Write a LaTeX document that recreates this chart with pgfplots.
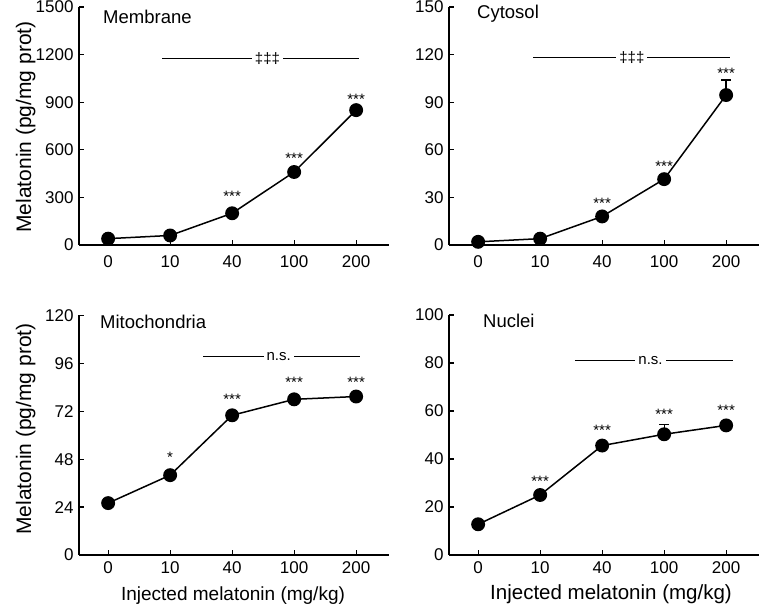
\documentclass[border=0pt]{standalone}
\usepackage{fontspec}
\setmainfont{Liberation Sans}
\usepackage{pgfplots}
\pgfplotsset{compat=1.18}

\pgfplotsset{
  panel/.style={
    scale only axis, width=310pt, anchor=south west,
    xmin=-0.47, xmax=4.53, ymin=0, clip=false,
    axis x line*=bottom, axis y line*=left,
    axis line style={line width=1.3pt,-},
    tick align=inside, major tick length=5pt,
    tick style={line width=1.2pt,black},
    xtick={0,1,2,3,4}, xticklabels={0,10,40,100,200},
    /pgf/number format/assume math mode=true,
    /pgf/number format/1000 sep={},
    tick label style={font=\fontsize{17}{19}\selectfont},
    yticklabel style={xshift=-2pt},
    xticklabel style={yshift=-3pt},
  },
  toppanel/.style={panel, xticklabel style={yshift=-4pt}},
  series/.style={black, line width=1.5pt, mark=*, mark size=6.2pt},
}
\tikzset{
  stars/.style={font=\fontsize{15}{16}\selectfont, yshift=-3pt},
  sig/.style={font=\fontsize{15}{16}\selectfont, fill=white, inner sep=3pt},
}

\begin{document}
\begin{tikzpicture}
\useasboundingbox (0pt,0pt) rectangle (761pt,608pt);

% Membrane
\begin{axis}[toppanel, at={(79pt,363pt)}, height=238pt, ymax=1500,
  ytick={0,300,600,900,1200,1500}]
  \addplot[series] coordinates {(0,40) (1,60) (2,200) (3,460) (4,850)};
  \draw[line width=1.4pt] (axis cs:0.87,1175) -- (axis cs:4.04,1175);
  \node[sig] at (axis cs:2.57,1175) {‡‡‡};
  \node[stars] at (axis cs:2,328) {***};
  \node[stars] at (axis cs:3,563) {***};
  \node[stars] at (axis cs:4,934) {***};
\end{axis}

% Cytosol
\begin{axis}[toppanel, at={(449pt,363pt)}, height=238pt, ymax=150,
  ytick={0,30,60,90,120,150}]
  \addplot[series, error bars/.cd, y dir=plus, y explicit,
    error bar style={line width=1.4pt},
    error mark options={rotate=90, mark size=5pt, line width=1.4pt}]
    coordinates {(0,2) +- (0,0) (1,4) +- (0,0) (2,18) +- (0,0)
                 (3,41.5) +- (0,0) (4,94.5) +- (0,9.5)};
  \draw[line width=1.4pt] (axis cs:0.89,118) -- (axis cs:4.06,118);
  \node[sig] at (axis cs:2.48,118) {‡‡‡};
  \node[stars] at (axis cs:2,28) {***};
  \node[stars] at (axis cs:3,51.6) {***};
  \node[stars] at (axis cs:4,110) {***};
\end{axis}

% Mitochondria
\begin{axis}[panel, at={(79pt,53pt)}, height=239.5pt, ymax=120,
  ytick={0,24,48,72,96,120}]
  \addplot[series] coordinates {(0,26) (1,40) (2,70) (3,78) (4,79.4)};
  \draw[line width=1.4pt] (axis cs:1.53,99.5) -- (axis cs:4.06,99.5);
  \node[sig] at (axis cs:2.75,99.5) {n.s.};
  \node[stars] at (axis cs:1,50.2) {*};
  \node[stars] at (axis cs:2,79.4) {***};
  \node[stars] at (axis cs:3,88) {***};
  \node[stars] at (axis cs:4,88) {***};
\end{axis}

% Nuclei
\begin{axis}[panel, at={(449pt,53pt)}, height=240pt, ymax=100,
  ytick={0,20,40,60,80,100}]
  \addplot[series, error bars/.cd, y dir=plus, y explicit,
    error bar style={line width=1pt},
    error mark options={rotate=90, mark size=5pt, line width=1pt}]
    coordinates {(0,12.8) +- (0,0) (1,25) +- (0,0) (2,45.6) +- (0,0)
                 (3,50.3) +- (0,4.2) (4,54) +- (0,0)};
  \draw[line width=1.4pt] (axis cs:1.56,81) -- (axis cs:4.11,81);
  \node[sig] at (axis cs:2.78,81) {n.s.};
  \node[stars] at (axis cs:1,32) {***};
  \node[stars] at (axis cs:2,53) {***};
  \node[stars] at (axis cs:3,60) {***};
  \node[stars] at (axis cs:4,61.7) {***};
\end{axis}

% panel titles
\node[anchor=base west, inner sep=0pt, font=\fontsize{18.5}{20}\selectfont] at (103pt,584.7pt) {Membrane};
\node[anchor=base west, inner sep=0pt, font=\fontsize{18.5}{20}\selectfont] at (477pt,589pt) {Cytosol};
\node[anchor=base west, inner sep=0pt, font=\fontsize{18.5}{20}\selectfont] at (100pt,279.7pt) {Mitochondria};
\node[anchor=base west, inner sep=0pt, font=\fontsize{18.5}{20}\selectfont] at (483pt,280.7pt) {Nuclei};

% axis titles
\node[rotate=90, anchor=base, inner sep=0pt, font=\fontsize{21}{24}\selectfont] at (31pt,481pt) {Melatonin (pg/mg prot)};
\node[rotate=90, anchor=base, inner sep=0pt, font=\fontsize{21}{24}\selectfont] at (31pt,179pt) {Melatonin (pg/mg prot)};
\node[anchor=base, inner sep=0pt, font=\fontsize{19}{22}\selectfont] at (233pt,7pt) {Injected melatonin (mg/kg)};
\node[anchor=base, inner sep=0pt, font=\fontsize{20.5}{23}\selectfont] at (611pt,8pt) {Injected melatonin (mg/kg)};
\end{tikzpicture}
\end{document}
